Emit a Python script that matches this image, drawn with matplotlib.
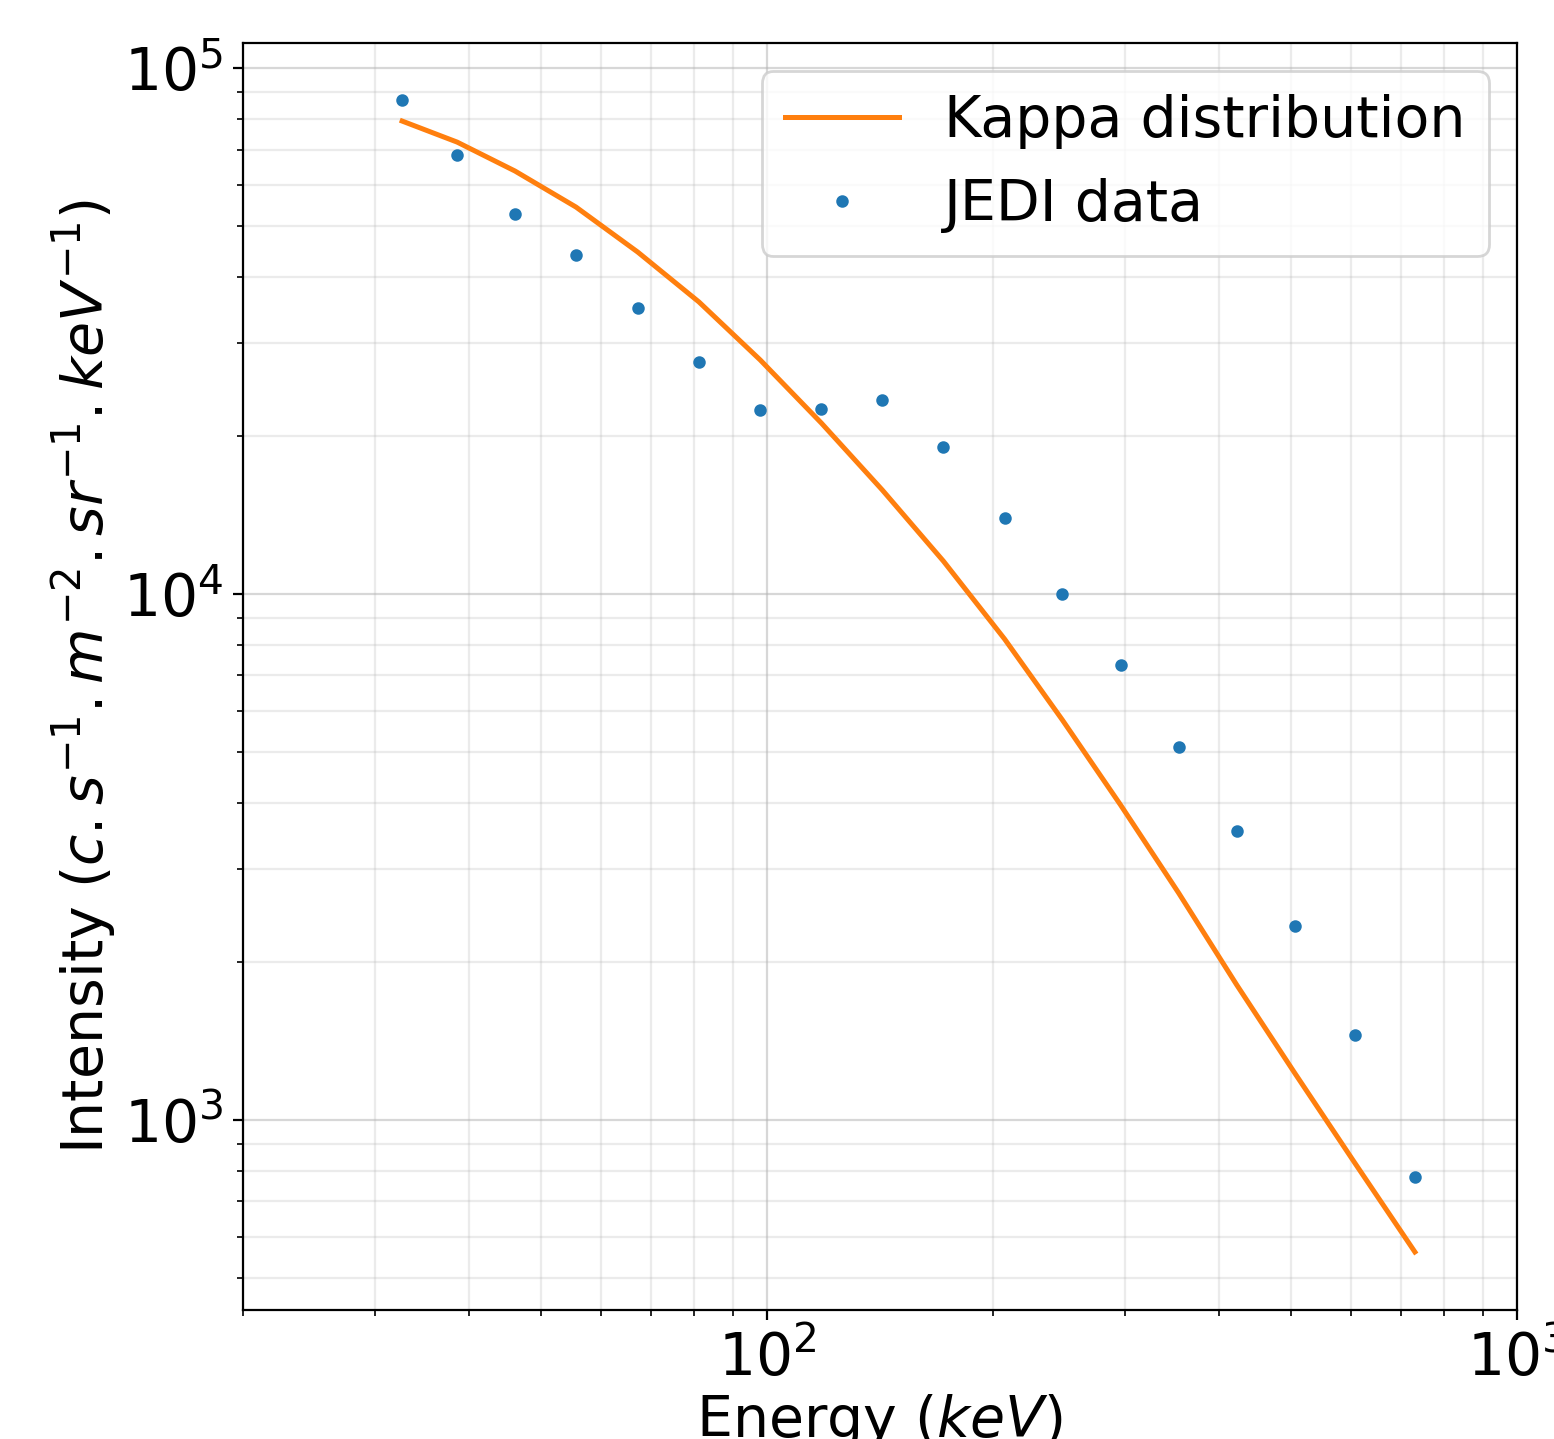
import numpy as np
import matplotlib
matplotlib.use("Agg")
import matplotlib.pyplot as plt

# energy channels (keV)
energy = [32.6, 38.6, 46.1, 55.6, 67.2, 81.1, 97.9, 118.1, 142.4, 171.8,
          207.3, 247.6, 296.0, 353.8, 422.9, 505.3, 607.6, 730.8]

# measured intensity
jedi = [86950, 68330, 52790, 44110, 34970, 27620, 22380, 22450, 23380, 19030,
        13950, 10000, 7328, 5119, 3543, 2338, 1451, 779]

# fitted kappa distribution
kappa = [79300, 72320, 63720, 54420, 44690, 35920, 27860, 21140, 15770, 11550,
         8212, 5760, 3971, 2701, 1806, 1228, 828.6, 561]

plt.rcParams['font.size'] = 21

fig = plt.figure(figsize=(7.77, 7.195), dpi=200)
ax = fig.add_subplot(111)
fig.subplots_adjust(left=0.1564, right=0.9762, top=0.9701, bottom=0.0896)

ax.plot(energy, kappa, color='C1', lw=1.8, label='Kappa distribution')
ax.plot(energy, jedi, '.', color='C0', ms=7, label='JEDI data')

ax.set_xscale('log')
ax.set_yscale('log')
ax.set_xlim(20, 1000)
ax.set_ylim(435, 1.116e5)

ax.grid(True, which='major', alpha=0.5)
ax.grid(True, which='minor', alpha=0.25)

ax.set_xlabel('Energy ($keV$)', fontsize=20.5, labelpad=1.5)
ax.set_ylabel('Intensity ($c.s^{-1}.m^{-2}.sr^{-1}.keV^{-1}$)',
              fontsize=20.5, labelpad=2)
ax.legend(loc='upper right', fontsize=20.5)

fig.savefig('out.png', dpi=200)
